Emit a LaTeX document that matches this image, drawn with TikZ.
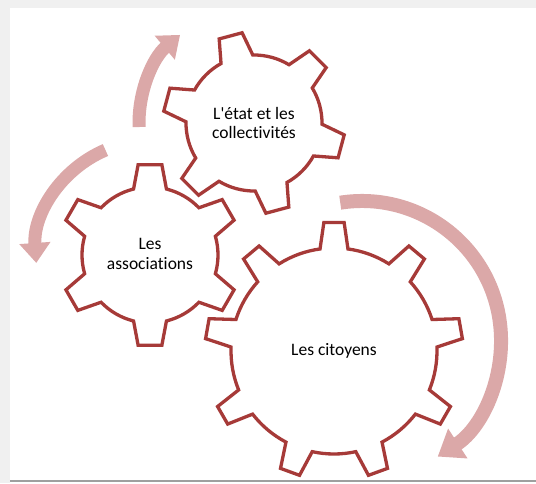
\documentclass[tikz,border=0pt]{standalone}
\usepackage{fontspec}
\setmainfont{Carlito}[RawFeature={-liga;-clig;-calt;-dlig}]
\usetikzlibrary{arrows.meta}

\definecolor{gearred}{RGB}{166,58,56}
\definecolor{turnpink}{RGB}{219,168,168}
\definecolor{framegray}{RGB}{240,240,240}

\tikzset{
  gearline/.style={draw=gearred, line width=3.3pt, line join=miter, fill=white},
  turnarrow/.style={draw=turnpink, line width=13pt, -{Triangle[width=30pt,length=20pt]}},
  gearlabel/.style={align=center, font=\fontsize{17.5}{19.5}\selectfont}
}

% #1 centre, #2 teeth, #3 first tooth angle, #4 tip radius, #5 root radius, #6 tip half angle, #7 root half angle
\newcommand{\drawgear}[7]{%
  \pgfmathsetmacro\gpitch{360/#2}%
  \pgfmathtruncatemacro\glast{#2-1}%
  \draw[gearline, shift={#1}] (#3-#7:#5)
    \foreach \k in {0,...,\glast} {
      -- (#3+\k*\gpitch-#6:#4) -- (#3+\k*\gpitch+#6:#4) -- (#3+\k*\gpitch+#7:#5)
      arc[start angle=#3+\k*\gpitch+#7, end angle=#3+\k*\gpitch+\gpitch-#7, radius=#5]
    } -- cycle;
}

\begin{document}
\begin{tikzpicture}[x=1pt, y=1pt]
  \useasboundingbox (0,0) rectangle (536,483);

  % frame of the screenshot
  \fill[framegray] (0,475) rectangle (536,483);
  \fill[framegray] (0,0) rectangle (10,483);
  \coordinate (baseL) at (10,2);
  \coordinate (baseR) at (536,2);
  \draw[gray!75, line width=1.5pt] (baseL) -- (baseR);

  % gear centres
  \coordinate (etatc) at (254,360);
  \coordinate (assocc) at (150,228);
  \coordinate (citc) at (334,132);
  \coordinate (bigturn) at (362,143);

  % turning arrows
  \draw[turnarrow] ([shift={(182:115)}]etatc) arc[start angle=182, end angle=130, radius=115];
  \draw[turnarrow] ([shift={(113:114)}]assocc) arc[start angle=113, end angle=184, radius=114];
  \draw[turnarrow, line width=14pt, -{Triangle[width=34pt,length=24pt]}]
    ([shift={(99:139)}]bigturn) arc[start angle=99, end angle=-57, radius=139];

  % gears
  \drawgear{(citc)}{9}{90}{129}{103}{4.5}{7.8}
  \drawgear{(assocc)}{6}{90}{91}{68}{7.5}{14}
  \drawgear{(etatc)}{6}{105}{91}{68}{7.5}{14}

  \node[gearlabel] (etat) at (etatc) {L\textquotesingle état et les\\collectivités};
  \node[gearlabel] (assoc) at ([yshift=1pt]assocc) {Les\\associations};
  \node[gearlabel] (citoyens) at (citc) {Les citoyens};
\end{tikzpicture}
\end{document}
